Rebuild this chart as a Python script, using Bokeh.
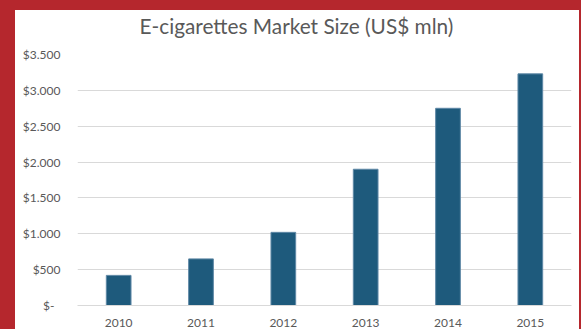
from bokeh.plotting import figure
from bokeh.models import ColumnDataSource, FactorRange, Range1d, FixedTicker, Title
from bokeh.layouts import column
from bokeh.embed import file_html
from bokeh.resources import INLINE

years = ["2010", "2011", "2012", "2013", "2014", "2015"]
market_size = [420, 650, 1020, 1900, 2750, 3230]
y_ticks = [0, 500, 1000, 1500, 2000, 2500, 3000, 3500]
y_tick_labels = ["$-\u00a0\u00a0", "$500", "$1.000", "$1.500", "$2.000", "$2.500", "$3.000", "$3.500"]
title_text = "E-cigarettes Market Size (US$ mln)"

FONT = "Lato"
GREY = "#595959"

src = ColumnDataSource(data=dict(year=years, value=market_size))

p = figure(
    width=564, height=319,
    x_range=FactorRange(*years, range_padding=0),
    y_range=Range1d(0, 3500),
    output_backend="svg", toolbar_location=None,
    min_border_left=62, min_border_right=8, min_border_top=44, min_border_bottom=23,
    background_fill_color="white", border_fill_color="white",
    outline_line_color=None,
    margin=(10, 2, 0, 15),
    styles={"background-color": "white"},
    title=title_text,
)

p.title.align = "left"
p.title.offset = 62
p.title.text_font = FONT
p.title.text_font_size = "20.8px"
p.title.text_font_style = "normal"
p.title.text_color = GREY
p.title.standoff = 0

# invisible spacer between title and plot area
p.add_layout(Title(text=" ", text_font_size="1px", standoff=14), "above")

p.vbar(x="year", top="value", width=0.30, source=src,
       fill_color="#1E5A7C", line_color="#5F88A6", line_width=1)

p.yaxis.ticker = FixedTicker(ticks=y_ticks)
p.yaxis.major_label_overrides = {t: l for t, l in zip(y_ticks, y_tick_labels)}
for ax in (p.xaxis, p.yaxis):
    ax.major_tick_line_color = None
    ax.minor_tick_line_color = None
    ax.major_tick_out = 0
    ax.major_tick_in = 0
    ax.major_label_text_font = FONT
    ax.major_label_text_font_size = "12px"
    ax.major_label_text_color = GREY
p.yaxis.axis_line_color = None
p.xaxis.axis_line_color = "#D9D9D9"
p.yaxis.major_label_standoff = 17
p.xaxis.major_label_standoff = 13

p.xgrid.grid_line_color = None
p.ygrid.grid_line_color = "#D9D9D9"
p.ygrid.grid_line_width = 1

layout = column(p, styles={"background-color": "#B5272D"})

open("out.html", "w").write(file_html(layout, INLINE))
